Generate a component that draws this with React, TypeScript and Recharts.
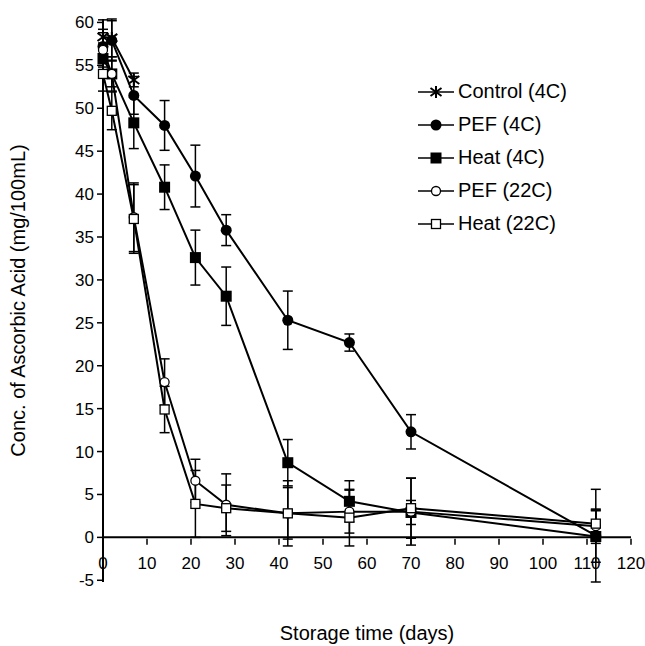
import React from 'react';
import { LineChart, Line, XAxis, YAxis, ErrorBar, ReferenceLine, Legend } from 'recharts';

// storage time (days) and ascorbic acid (mg/100mL)
const days = [0, 2, 7, 14, 21, 28, 42, 56, 70, 112];
const controlDays = [0, 2, 7];
const control4C = [58.3, 58.2, 53.3];
const control4CErr = [2.0, 2.2, 0.8];
const pef4C = [57.2, 57.9, 51.5, 48.0, 42.1, 35.8, 25.3, 22.7, 12.3, 0.2];
const pef4CErr = [2.0, 2.3, 2.2, 2.9, 3.6, 1.8, 3.4, 1.0, 2.0, 5.4];
const heat4C = [55.8, 54.0, 48.3, 40.8, 32.6, 28.1, 8.7, 4.2, 2.9, 0.1];
const heat4CErr = [1.8, 1.5, 3.0, 2.6, 3.2, 3.4, 2.7, 2.4, 1.4, 3.0];
const pef22C = [56.8, 54.0, 37.3, 18.1, 6.6, 3.8, 2.8, 3.0, 3.0, 1.3];
const pef22CErr = [2.0, 2.0, 4.0, 2.7, 2.5, 3.6, 3.8, 2.5, 3.9, 2.0];
const heat22C = [54.0, 49.7, 37.1, 14.9, 3.9, 3.4, 2.8, 2.3, 3.4, 1.6];
const heat22CErr = [2.0, 2.2, 4.0, 2.7, 3.9, 2.7, 3.0, 3.3, 3.5, 1.6];

const xTicks = [0, 10, 20, 30, 40, 50, 60, 70, 80, 90, 100, 110, 120];
const yTicks = [-5, 0, 5, 10, 15, 20, 25, 30, 35, 40, 45, 50, 55, 60];

const FONT = '"Liberation Sans", Arial, sans-serif';
const CHART_W = 645;
const CHART_H = 646;
const MARGIN = { top: 19, right: 14, left: 0, bottom: 0 };
const Y_AXIS_W = 103;
const X_AXIS_H = 64;
const Y_DOMAIN: [number, number] = [-5, 60];
const PLOT_H = CHART_H - MARGIN.top - MARGIN.bottom - X_AXIS_H;
// pixel row of y = 0, where the x axis crosses
const ZERO_Y = MARGIN.top + (PLOT_H * Y_DOMAIN[1]) / (Y_DOMAIN[1] - Y_DOMAIN[0]);

type Kind = 'star' | 'dot' | 'square' | 'ring' | 'box';

const SERIES: { key: string; name: string; kind: Kind }[] = [
  { key: 'control4C', name: 'Control (4C)', kind: 'star' },
  { key: 'pef4C', name: 'PEF (4C)', kind: 'dot' },
  { key: 'heat4C', name: 'Heat (4C)', kind: 'square' },
  { key: 'pef22C', name: 'PEF (22C)', kind: 'ring' },
  { key: 'heat22C', name: 'Heat (22C)', kind: 'box' },
];

const rows = days.map((d, i) => ({
  day: d,
  pef4C: pef4C[i],
  pef4CErr: pef4CErr[i],
  heat4C: heat4C[i],
  heat4CErr: heat4CErr[i],
  pef22C: pef22C[i],
  pef22CErr: pef22CErr[i],
  heat22C: heat22C[i],
  heat22CErr: heat22CErr[i],
}));

const controlRows = controlDays.map((d, i) => ({
  day: d,
  control4C: control4C[i],
  control4CErr: control4CErr[i],
}));

const Marker = ({ kind, cx, cy }: { kind: Kind; cx: number; cy: number }) => {
  if (cx == null || cy == null) return null;
  switch (kind) {
    case 'star':
      return (
        <g stroke="#000" strokeWidth={2}>
          <line x1={cx} y1={cy - 6} x2={cx} y2={cy + 6} />
          <line x1={cx - 5.5} y1={cy - 4} x2={cx + 5.5} y2={cy + 4} />
          <line x1={cx - 5.5} y1={cy + 4} x2={cx + 5.5} y2={cy - 4} />
        </g>
      );
    case 'dot':
      return <circle cx={cx} cy={cy} r={5.5} fill="#000" />;
    case 'square':
      return <rect x={cx - 5.5} y={cy - 5.5} width={11} height={11} fill="#000" />;
    case 'ring':
      return <circle cx={cx} cy={cy} r={4.5} fill="#fff" stroke="#000" strokeWidth={1.3} />;
    default:
      return <rect x={cx - 4.5} y={cy - 4.5} width={9} height={9} fill="#fff" stroke="#000" strokeWidth={1.3} />;
  }
};

const dotFor = (kind: Kind) => (p: any) => (
  <Marker key={`${kind}-${p.index}`} kind={kind} cx={p.cx} cy={p.cy} />
);

const XTick = ({ x, payload }: any) => (
  <g>
    <line x1={x} x2={x} y1={ZERO_Y} y2={ZERO_Y + 6} stroke="#000" strokeWidth={1.5} />
    <text x={x} y={ZERO_Y + 30} textAnchor="middle" fontSize={17} fontFamily={FONT} fill="#000">
      {payload.value}
    </text>
  </g>
);

const LegendBox = () => (
  <div style={{ fontFamily: FONT, fontSize: 20, color: '#000' }}>
    {SERIES.map((s) => (
      <div key={s.key} style={{ display: 'flex', alignItems: 'center', height: 33 }}>
        <svg width={36} height={16}>
          <line x1={0} y1={8} x2={36} y2={8} stroke="#000" strokeWidth={1.5} />
          <Marker kind={s.kind} cx={18} cy={8} />
        </svg>
        <span style={{ marginLeft: 4 }}>{s.name}</span>
      </div>
    ))}
  </div>
);

export default function App() {
  return (
    <div style={{ position: 'absolute', left: 0, top: 0, width: CHART_W, height: CHART_H, background: '#fff' }}>
      <LineChart width={CHART_W} height={CHART_H} data={rows} margin={MARGIN}>
        <XAxis
          dataKey="day"
          type="number"
          domain={[0, 120]}
          ticks={xTicks}
          interval={0}
          height={X_AXIS_H}
          axisLine={false}
          tickLine={false}
          tick={<XTick />}
          label={{
            value: 'Storage time (days)',
            position: 'insideBottom',
            offset: 6,
            style: { fontSize: 20, fontFamily: FONT, fill: '#000' },
          }}
        />
        <YAxis
          type="number"
          domain={Y_DOMAIN}
          ticks={yTicks}
          interval={0}
          width={Y_AXIS_W}
          axisLine={{ stroke: '#000', strokeWidth: 2 }}
          tickLine={{ stroke: '#000', strokeWidth: 1.5 }}
          tickSize={6}
          tickMargin={3}
          tick={{ fontSize: 17, fontFamily: FONT, fill: '#000' }}
          label={{
            value: 'Conc. of Ascorbic Acid (mg/100mL)',
            angle: -90,
            position: 'insideLeft',
            offset: 18,
            style: { fontSize: 20, fontFamily: FONT, fill: '#000', textAnchor: 'middle' },
          }}
        />
        <ReferenceLine y={0} stroke="#000" strokeWidth={2} />
        <Legend
          layout="vertical"
          align="center"
          verticalAlign="middle"
          wrapperStyle={{ left: 418, top: 75, width: 'auto' }}
          content={<LegendBox />}
        />
        <Line
          data={controlRows}
          dataKey="control4C"
          name="Control (4C)"
          stroke="#000"
          strokeWidth={2}
          dot={dotFor('star')}
          activeDot={false}
          isAnimationActive={false}
        >
          <ErrorBar dataKey="control4CErr" direction="y" width={5} stroke="#000" strokeWidth={1.5} />
        </Line>
        <Line
          dataKey="pef4C"
          name="PEF (4C)"
          stroke="#000"
          strokeWidth={2}
          dot={dotFor('dot')}
          activeDot={false}
          isAnimationActive={false}
        >
          <ErrorBar dataKey="pef4CErr" direction="y" width={5} stroke="#000" strokeWidth={1.5} />
        </Line>
        <Line
          dataKey="heat4C"
          name="Heat (4C)"
          stroke="#000"
          strokeWidth={2}
          dot={dotFor('square')}
          activeDot={false}
          isAnimationActive={false}
        >
          <ErrorBar dataKey="heat4CErr" direction="y" width={5} stroke="#000" strokeWidth={1.5} />
        </Line>
        <Line
          dataKey="pef22C"
          name="PEF (22C)"
          stroke="#000"
          strokeWidth={2}
          dot={dotFor('ring')}
          activeDot={false}
          isAnimationActive={false}
        >
          <ErrorBar dataKey="pef22CErr" direction="y" width={5} stroke="#000" strokeWidth={1.5} />
        </Line>
        <Line
          dataKey="heat22C"
          name="Heat (22C)"
          stroke="#000"
          strokeWidth={2}
          dot={dotFor('box')}
          activeDot={false}
          isAnimationActive={false}
        >
          <ErrorBar dataKey="heat22CErr" direction="y" width={5} stroke="#000" strokeWidth={1.5} />
        </Line>
      </LineChart>
    </div>
  );
}
